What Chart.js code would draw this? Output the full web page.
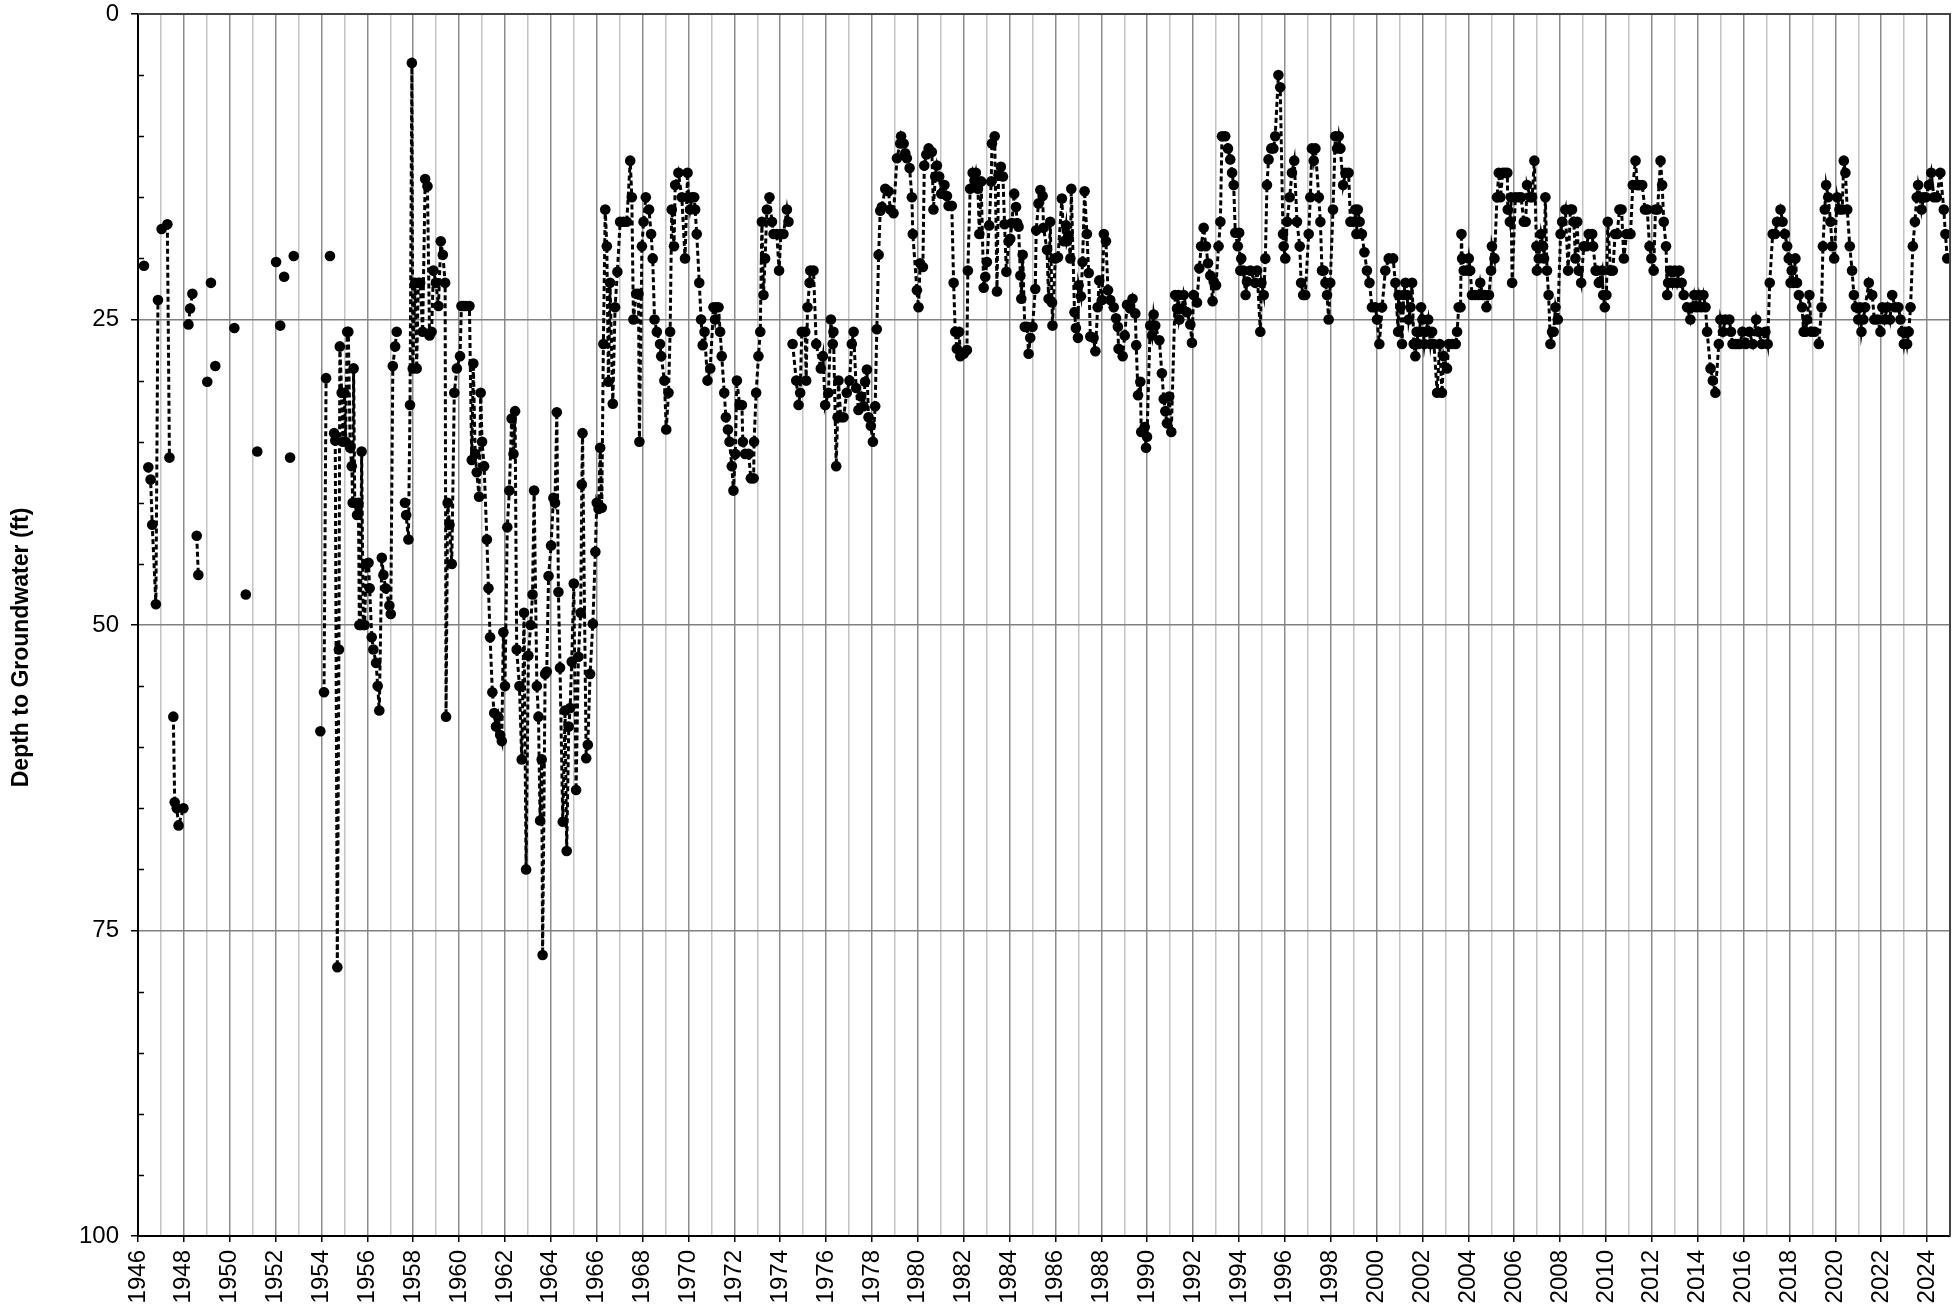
<!DOCTYPE html>
<html>
<head>
<meta charset="utf-8">
<script src="https://cdn.jsdelivr.net/npm/chart.js@4.4.0/dist/chart.umd.min.js"></script>
<style>
  html, body { margin: 0; padding: 0; background: #fff; }
  canvas { display: block; }
</style>
</head>
<body>
<canvas id="chart" width="1959" height="1309"></canvas>
<script>
// [decimal year, depth to groundwater (ft)]; null = no line across the gap
const obs1940s = [
  [1946.26, 20.6], null,
  [1946.45, 37.1], [1946.55, 38.1], [1946.62, 41.8], [1946.78, 48.3], [1946.87, 23.4], null,
  [1947.03, 17.6], [1947.28, 17.2], [1947.37, 36.3], null,
  [1947.54, 57.5], [1947.60, 64.5], [1947.69, 65.0], [1947.77, 66.4], [1947.98, 65.0], null,
  [1948.20, 25.4], [1948.27, 24.1], [1948.37, 22.9], null,
  [1948.56, 42.7], [1948.63, 45.9], null,
  [1949.02, 30.1], null, [1949.18, 22.0], null, [1949.37, 28.8], null
];
const obs1950s = [
  [1950.20, 25.7], null, [1950.70, 47.5], null, [1951.20, 35.8], null,
  [1952.02, 20.3], null, [1952.20, 25.5], null, [1952.37, 21.5], null,
  [1952.63, 36.3], null, [1952.79, 19.8], null, [1953.95, 58.7], null,
  [1954.11, 55.5], [1954.20, 29.8], null, [1954.37, 19.8], null,
  [1954.55, 34.3], [1954.60, 34.9], [1954.69, 78.0], [1954.76, 52.0], [1954.80, 27.2],
  [1954.88, 31.0], [1954.93, 35.0], [1955.00, 31.0], [1955.05, 35.0], [1955.12, 26.0],
  [1955.17, 26.0], [1955.25, 35.5], [1955.32, 37.0], [1955.36, 40.0], [1955.40, 29.0],
  [1955.45, 40.0], [1955.55, 41.0], [1955.61, 40.0], [1955.65, 50.0], [1955.70, 50.0],
  [1955.75, 35.8], [1955.82, 50.0], [1955.88, 50.0], [1955.95, 45.0], [1956.05, 44.9],
  [1956.10, 47.0], [1956.19, 51.0], [1956.26, 52.0], [1956.38, 53.1], [1956.45, 55.0],
  [1956.52, 57.0], [1956.63, 44.5], [1956.70, 45.9], [1956.80, 47.0], [1956.96, 48.4],
  [1957.02, 49.1], [1957.11, 28.8], [1957.21, 27.2], [1957.28, 26.0], null,
  [1957.64, 40.0], [1957.69, 41.0], [1957.79, 43.0], [1957.86, 32.0], [1957.94, 4.0],
  [1957.98, 29.0], [1958.08, 22.0], [1958.15, 29.0], [1958.22, 22.0], [1958.30, 22.0],
  [1958.41, 26.0], [1958.52, 13.5], [1958.62, 14.1], [1958.71, 26.3], [1958.80, 26.0],
  [1958.88, 21.0], [1958.99, 22.0], [1959.10, 23.9], [1959.20, 18.6], [1959.29, 19.7],
  [1959.39, 22.0], [1959.43, 57.5], [1959.50, 40.0], [1959.58, 41.8], [1959.68, 45.0],
  [1959.79, 31.0], [1959.90, 29.0]
];
const obs1960s = [
  [1960.04, 28.0], [1960.10, 23.9], [1960.20, 23.9], [1960.30, 23.9], [1960.45, 23.9],
  [1960.55, 36.5], [1960.62, 28.6], [1960.70, 36.0], [1960.77, 37.5], [1960.87, 39.5],
  [1960.94, 31.0], [1961.00, 35.0], [1961.09, 37.0], [1961.21, 43.0], [1961.28, 47.0],
  [1961.35, 51.0], [1961.45, 55.5], [1961.53, 57.2], [1961.61, 58.3], [1961.70, 57.5],
  [1961.79, 59.0], [1961.86, 59.5], [1961.93, 50.6], [1962.00, 55.0], [1962.10, 42.0],
  [1962.19, 39.0], [1962.29, 33.1], [1962.37, 36.0], [1962.44, 32.5], [1962.51, 52.0],
  [1962.63, 55.0], [1962.73, 61.0], [1962.83, 49.0], [1962.92, 70.0], [1963.02, 52.5],
  [1963.12, 50.0], [1963.20, 47.5], [1963.27, 39.0], [1963.39, 55.0], [1963.46, 57.5],
  [1963.53, 66.0], [1963.60, 61.0], [1963.64, 77.0], [1963.75, 54.0], [1963.82, 53.8],
  [1963.90, 46.0], [1964.01, 43.5], [1964.11, 39.6], [1964.18, 40.0], [1964.26, 32.6],
  [1964.33, 47.3], [1964.40, 53.5], [1964.52, 66.1], [1964.62, 57.0], [1964.69, 68.5],
  [1964.78, 58.3], [1964.84, 56.8], [1964.91, 53.0], [1965.00, 46.6], [1965.10, 63.5],
  [1965.20, 52.6], [1965.30, 49.0], [1965.35, 38.5], [1965.38, 34.3], [1965.54, 60.9],
  [1965.61, 59.8], [1965.71, 54.0], [1965.83, 49.9], [1965.94, 44.0], [1966.00, 40.0],
  [1966.08, 40.5], [1966.15, 35.5], [1966.22, 40.4], [1966.29, 27.0], [1966.37, 16.0],
  [1966.44, 19.0], [1966.51, 30.1], [1966.58, 22.0], [1966.70, 31.9], [1966.80, 24.0],
  [1966.90, 21.1], [1967.02, 17.0], [1967.17, 17.0], [1967.31, 17.0], [1967.46, 12.0],
  [1967.53, 15.0], [1967.60, 25.0], [1967.72, 22.9], [1967.82, 22.9], [1967.86, 35.0],
  [1967.97, 19.0], [1968.04, 17.0], [1968.14, 15.0], [1968.28, 16.0], [1968.37, 18.0],
  [1968.44, 20.0], [1968.52, 25.0], [1968.62, 26.0], [1968.76, 27.0], [1968.81, 28.0],
  [1968.95, 30.0], [1969.03, 34.0], [1969.13, 31.0], [1969.20, 26.0], [1969.27, 16.0],
  [1969.37, 19.0], [1969.42, 14.0], [1969.56, 13.0], [1969.71, 15.0], [1969.85, 20.0],
  [1969.96, 13.0]
];
const obs1970s = [
  [1970.00, 15.0], [1970.07, 16.0], [1970.16, 15.0], [1970.25, 15.0], [1970.29, 16.0],
  [1970.36, 18.0], [1970.47, 22.0], [1970.55, 25.0], [1970.62, 27.1], [1970.70, 26.0],
  [1970.83, 30.0], [1970.95, 29.0], [1971.09, 24.0], [1971.16, 25.0], [1971.22, 24.0],
  [1971.31, 24.0], [1971.38, 26.0], [1971.45, 28.0], [1971.56, 31.0], [1971.63, 33.0],
  [1971.72, 34.0], [1971.79, 35.0], [1971.89, 37.0], [1971.96, 39.0], [1972.04, 36.0],
  [1972.11, 30.0], [1972.23, 32.0], [1972.33, 32.0], [1972.37, 35.0], [1972.47, 36.0],
  [1972.62, 36.0], [1972.72, 38.0], [1972.84, 38.0], [1972.86, 35.0], [1972.95, 31.0],
  [1973.05, 28.0], [1973.13, 26.0], [1973.20, 17.0], [1973.27, 23.0], [1973.34, 20.0],
  [1973.42, 16.0], [1973.53, 15.0], [1973.64, 17.0], [1973.71, 18.0], [1973.85, 18.0],
  [1973.95, 21.0], [1974.03, 18.0], [1974.14, 18.0], [1974.29, 16.0], [1974.36, 17.0], null,
  [1974.54, 27.0], [1974.70, 30.0], [1974.80, 32.0], [1974.87, 31.0], [1974.94, 26.0],
  [1975.09, 26.0], [1975.13, 30.0], [1975.19, 24.0], [1975.28, 22.0], [1975.31, 21.0],
  [1975.45, 21.0], [1975.57, 27.0], [1975.77, 29.0], [1975.86, 28.0], [1975.96, 32.0],
  [1976.10, 31.0], [1976.21, 25.0], [1976.29, 27.0], [1976.32, 26.0], [1976.44, 37.0],
  [1976.50, 33.0], [1976.54, 30.0], [1976.64, 33.0], [1976.76, 33.0], [1976.90, 31.0],
  [1977.02, 30.0], [1977.12, 27.0], [1977.20, 26.0], [1977.31, 30.6], [1977.41, 32.4],
  [1977.53, 31.3], [1977.63, 32.1], [1977.70, 30.1], [1977.78, 29.1], [1977.85, 33.0],
  [1977.95, 33.7], [1978.04, 35.0], [1978.14, 32.1], [1978.21, 25.8], [1978.29, 19.7],
  [1978.36, 16.1], [1978.43, 15.8], [1978.58, 14.3], [1978.72, 14.5], [1978.80, 16.0],
  [1978.94, 16.3], [1979.09, 11.8], [1979.23, 10.6], [1979.27, 10.0], [1979.38, 10.6],
  [1979.45, 11.4], [1979.52, 11.8], [1979.64, 12.6], [1979.74, 15.0], [1979.78, 18.0],
  [1979.96, 22.6]
];
const obs1980s = [
  [1980.03, 24.0], [1980.10, 20.4], [1980.22, 20.7], [1980.28, 12.4], [1980.37, 11.5],
  [1980.47, 11.0], [1980.61, 11.3], [1980.68, 16.0], [1980.76, 13.3], [1980.83, 12.4],
  [1980.93, 13.3], [1981.02, 14.7], [1981.16, 14.0], [1981.27, 14.9], [1981.34, 15.7],
  [1981.48, 15.7], [1981.56, 22.0], [1981.63, 26.0], [1981.70, 27.4], [1981.80, 26.0],
  [1981.85, 28.0], [1982.00, 27.8], [1982.14, 27.5], [1982.18, 21.0], [1982.28, 14.3],
  [1982.39, 13.0], [1982.47, 13.6], [1982.53, 13.0], [1982.62, 14.3], [1982.68, 18.0],
  [1982.76, 13.7], [1982.87, 22.4], [1982.94, 21.5], [1983.01, 20.3], [1983.11, 17.3],
  [1983.20, 13.7], [1983.23, 10.6], [1983.35, 10.0], [1983.45, 22.7], [1983.52, 13.2],
  [1983.62, 12.5], [1983.71, 13.3], [1983.78, 17.2], [1983.86, 21.1], [1983.96, 18.6],
  [1984.03, 18.4], [1984.10, 17.1], [1984.20, 14.7], [1984.28, 15.8], [1984.33, 17.1],
  [1984.39, 17.4], [1984.47, 21.4], [1984.51, 23.3], [1984.57, 19.7], [1984.66, 25.6],
  [1984.76, 25.6], [1984.83, 27.8], [1984.90, 26.5], [1985.00, 25.6], [1985.12, 22.5],
  [1985.16, 17.7], [1985.26, 15.5], [1985.34, 14.4], [1985.44, 14.9], [1985.48, 17.5],
  [1985.63, 19.3], [1985.70, 23.3], [1985.77, 17.0], [1985.85, 23.6], [1985.87, 25.5],
  [1985.99, 20.0], [1986.11, 19.9], [1986.28, 15.1], [1986.36, 18.6], [1986.46, 17.3],
  [1986.50, 18.6], [1986.57, 18.1], [1986.65, 20.0], [1986.69, 14.3], [1986.83, 24.4],
  [1986.89, 25.7], [1986.98, 26.5], [1987.01, 22.2], [1987.11, 23.1], [1987.18, 20.3],
  [1987.27, 14.5], [1987.37, 18.0], [1987.45, 21.2], [1987.52, 26.4], [1987.66, 26.5],
  [1987.74, 27.6], [1987.84, 24.0], [1987.91, 21.8], [1988.03, 23.4], [1988.11, 18.0],
  [1988.20, 18.6], [1988.29, 22.6], [1988.39, 23.4], [1988.54, 24.0], [1988.64, 24.9],
  [1988.72, 25.6], [1988.75, 27.4], [1988.93, 28.0], [1989.02, 26.3], [1989.12, 23.8],
  [1989.26, 24.1], [1989.36, 23.3], [1989.48, 24.5], [1989.52, 27.1], [1989.60, 31.2],
  [1989.70, 30.1], [1989.74, 34.2], [1989.89, 33.8], [1989.95, 35.5], [1989.99, 34.6]
];
const obs1990s = [
  [1990.13, 25.5], [1990.21, 26.3], [1990.28, 24.6], [1990.35, 25.5], [1990.53, 26.7],
  [1990.64, 29.4], [1990.72, 31.5], [1990.79, 32.5], [1990.86, 33.5], [1990.96, 31.3],
  [1991.05, 34.2], [1991.22, 23.0], [1991.30, 24.1], [1991.37, 23.0], [1991.40, 25.0],
  [1991.52, 24.1], [1991.59, 23.0], [1991.73, 24.4], [1991.88, 25.4], [1991.95, 26.9],
  [1992.02, 23.0], [1992.17, 23.6], [1992.27, 20.8], [1992.35, 19.0], [1992.46, 17.5],
  [1992.56, 19.0], [1992.65, 20.4], [1992.75, 21.4], [1992.85, 23.5], [1992.90, 21.9],
  [1993.00, 22.2], [1993.11, 19.0], [1993.19, 17.0], [1993.26, 10.0], [1993.40, 10.0],
  [1993.52, 11.0], [1993.62, 11.9], [1993.70, 13.0], [1993.77, 14.0], [1993.84, 17.9],
  [1993.95, 19.0], [1994.01, 17.9], [1994.06, 21.0], [1994.10, 20.0], [1994.20, 21.0],
  [1994.29, 23.0], [1994.35, 21.9], [1994.50, 21.0], [1994.71, 22.0], [1994.79, 21.0],
  [1994.93, 26.0], [1994.98, 22.0], [1995.08, 23.0], [1995.15, 20.0], [1995.22, 14.0],
  [1995.29, 11.9], [1995.41, 11.0], [1995.50, 11.0], [1995.58, 10.0], [1995.72, 5.0],
  [1995.80, 6.0], [1995.92, 18.0], [1995.95, 19.0], [1996.02, 20.0], [1996.10, 17.0],
  [1996.21, 15.0], [1996.31, 13.0], [1996.41, 12.0], [1996.53, 17.0], [1996.65, 19.0],
  [1996.71, 22.0], [1996.80, 23.0], [1996.89, 23.0], [1997.04, 18.0], [1997.11, 15.0],
  [1997.18, 11.0], [1997.26, 12.0], [1997.33, 11.0], [1997.48, 15.0], [1997.55, 17.0],
  [1997.62, 21.0], [1997.69, 21.0], [1997.77, 22.0], [1997.84, 23.0], [1997.91, 25.0],
  [1997.98, 22.0], [1998.10, 16.0], [1998.20, 10.0], [1998.28, 11.0], [1998.35, 10.0],
  [1998.42, 11.0], [1998.54, 14.0], [1998.64, 13.0], [1998.78, 13.0], [1998.86, 17.0],
  [1999.00, 17.0], [1999.07, 16.0], [1999.12, 18.0], [1999.18, 16.0], [1999.26, 17.0],
  [1999.36, 18.0], [1999.47, 19.5], [1999.58, 21.0], [1999.69, 22.0], [1999.80, 24.0],
  [1999.95, 24.0]
];
const obs2000s = [
  [2000.02, 25.0], [2000.12, 27.0], [2000.24, 24.0], [2000.38, 21.0], [2000.53, 20.0],
  [2000.72, 20.0], [2000.82, 22.0], [2000.94, 26.0], [2000.96, 23.0], [2001.04, 24.0],
  [2001.11, 27.0], [2001.18, 23.0], [2001.26, 22.0], [2001.33, 23.0], [2001.40, 25.0],
  [2001.48, 24.0], [2001.55, 22.0], [2001.62, 27.0], [2001.69, 28.0], [2001.75, 26.0],
  [2001.82, 27.0], [2001.88, 26.0], [2001.94, 24.0], [2002.00, 25.0], [2002.08, 27.0],
  [2002.15, 26.0], [2002.25, 25.0], [2002.35, 27.0], [2002.42, 26.0], [2002.50, 27.0],
  [2002.64, 31.0], [2002.75, 27.0], [2002.85, 31.0], [2002.93, 28.0], [2003.07, 29.0],
  [2003.15, 27.0], [2003.30, 27.0], [2003.45, 27.0], [2003.51, 26.0], [2003.58, 24.0],
  [2003.66, 24.0], [2003.70, 18.0], [2003.73, 20.0], [2003.80, 21.0], [2003.95, 21.0],
  [2004.02, 20.0], [2004.08, 21.0], [2004.16, 23.0], [2004.30, 23.0], [2004.45, 23.0],
  [2004.52, 22.0], [2004.62, 23.0], [2004.72, 23.0], [2004.79, 24.0], [2004.90, 23.0],
  [2004.99, 21.0], [2005.03, 19.0], [2005.14, 20.0], [2005.25, 15.0], [2005.33, 13.0],
  [2005.40, 15.0], [2005.50, 13.0], [2005.60, 13.0], [2005.70, 13.0], [2005.72, 16.0],
  [2005.81, 17.0], [2005.86, 15.0], [2005.91, 22.0], [2006.05, 15.0], [2006.20, 15.0],
  [2006.30, 15.0], [2006.42, 17.0], [2006.50, 17.0], [2006.56, 14.0], [2006.70, 15.0],
  [2006.78, 15.0], [2006.88, 12.0], [2006.97, 19.0], [2006.99, 21.0], [2007.07, 20.0],
  [2007.17, 18.0], [2007.26, 19.0], [2007.30, 20.0], [2007.36, 15.0], [2007.43, 21.0],
  [2007.50, 23.0], [2007.58, 27.0], [2007.65, 26.0], [2007.72, 26.0], [2007.80, 24.0],
  [2007.90, 25.0], [2008.02, 18.0], [2008.09, 17.0], [2008.23, 16.0], [2008.35, 21.0],
  [2008.45, 16.0], [2008.52, 16.0], [2008.60, 17.0], [2008.67, 20.0], [2008.75, 17.0],
  [2008.81, 21.0], [2008.92, 22.0], [2009.03, 19.0], [2009.15, 19.0], [2009.25, 18.0],
  [2009.40, 18.0], [2009.44, 19.0], [2009.55, 21.0], [2009.61, 21.0], [2009.69, 22.0],
  [2009.83, 21.0], [2009.88, 23.0], [2009.95, 24.0]
];
const obs2010s = [
  [2010.02, 23.0], [2010.08, 17.0], [2010.20, 21.0], [2010.30, 21.0], [2010.40, 18.0],
  [2010.49, 18.0], [2010.59, 16.0], [2010.68, 16.0], [2010.78, 20.0], [2010.90, 18.0],
  [2011.07, 18.0], [2011.17, 14.0], [2011.29, 12.0], [2011.36, 14.0], [2011.45, 14.0],
  [2011.58, 14.0], [2011.70, 16.0], [2011.80, 16.0], [2011.90, 19.0], [2011.98, 20.0],
  [2012.08, 21.0], [2012.16, 16.0], [2012.25, 16.0], [2012.38, 12.0], [2012.45, 14.0],
  [2012.52, 17.0], [2012.62, 19.0], [2012.67, 23.0], [2012.71, 22.0], [2012.80, 21.0],
  [2012.90, 22.0], [2013.00, 21.0], [2013.10, 22.0], [2013.20, 21.0], [2013.30, 22.0],
  [2013.39, 23.0], [2013.54, 24.0], [2013.68, 25.0], [2013.76, 24.0], [2013.85, 23.0],
  [2013.95, 24.0], [2014.05, 23.0], [2014.15, 24.0], [2014.25, 23.0], [2014.34, 24.0],
  [2014.41, 26.0], [2014.56, 29.0], [2014.66, 30.0], [2014.77, 31.0], [2014.92, 27.0],
  [2014.99, 25.0], [2015.10, 26.0], [2015.20, 25.0], [2015.38, 25.0], [2015.45, 26.0],
  [2015.52, 27.0], [2015.65, 27.0], [2015.75, 27.0], [2015.85, 27.0], [2015.95, 26.0],
  [2016.10, 27.0], [2016.25, 26.0], [2016.40, 27.0], [2016.55, 25.0], [2016.65, 26.0],
  [2016.80, 27.0], [2016.95, 26.0], [2017.05, 27.0], [2017.14, 22.0], [2017.27, 18.0],
  [2017.37, 18.0], [2017.46, 17.0], [2017.61, 16.0], [2017.70, 17.0], [2017.80, 18.0],
  [2017.90, 19.0], [2017.97, 20.0], [2018.05, 22.0], [2018.10, 21.0], [2018.18, 22.0],
  [2018.26, 20.0], [2018.33, 22.0], [2018.41, 23.0], [2018.55, 24.0], [2018.62, 26.0],
  [2018.70, 26.0], [2018.77, 25.0], [2018.87, 23.0], [2018.95, 26.0], [2019.10, 26.0],
  [2019.28, 27.0], [2019.40, 24.0], [2019.46, 19.0], [2019.54, 16.0], [2019.60, 14.0],
  [2019.69, 15.0], [2019.79, 17.0], [2019.86, 19.0], [2019.95, 20.0]
];
const obs2020s = [
  [2020.08, 15.0], [2020.18, 16.0], [2020.30, 16.0], [2020.37, 12.0], [2020.44, 13.0],
  [2020.52, 16.0], [2020.63, 19.0], [2020.73, 21.0], [2020.81, 23.0], [2020.90, 24.0],
  [2021.00, 25.0], [2021.08, 24.0], [2021.14, 26.0], [2021.22, 25.0], [2021.30, 24.0],
  [2021.46, 22.0], [2021.61, 23.0], [2021.70, 25.0], [2021.85, 25.0], [2021.97, 26.0],
  [2022.05, 24.0], [2022.15, 25.0], [2022.27, 24.0], [2022.38, 25.0], [2022.48, 23.0],
  [2022.60, 24.0], [2022.75, 24.0], [2022.84, 25.0], [2022.92, 26.0], [2022.99, 27.0],
  [2023.06, 26.0], [2023.13, 27.0], [2023.20, 26.0], [2023.28, 24.0], [2023.38, 19.0],
  [2023.47, 17.0], [2023.55, 15.0], [2023.61, 14.0], [2023.70, 15.0], [2023.76, 16.0],
  [2023.85, 15.0], [2023.95, 15.0], [2024.08, 14.0], [2024.18, 13.0], [2024.30, 15.0],
  [2024.42, 15.0], [2024.58, 13.0], [2024.73, 16.0], [2024.80, 18.0], [2024.88, 20.0]
];

const yearMin = 1946;
const yearMax = 2025;
const depthMin = 0;
const depthMax = 100;
// trailing spaces nudge the centred title a little toward the bottom, as in the source
const yTitle = 'Depth to Groundwater (ft)       ';

// build the point list; a null entry becomes a gap in the line
const allObs = [].concat(obs1940s, obs1950s, obs1960s, obs1970s, obs1980s,
                         obs1990s, obs2000s, obs2010s, obs2020s);
const points = [];
let lastX = yearMin;
allObs.forEach(o => {
  if (o === null) {
    points.push({ x: lastX, y: null });
  } else {
    lastX = o[0];
    points.push({ x: o[0], y: o[1] });
  }
});

// frame + small inside minor ticks on the depth axis
const framePlugin = {
  id: 'frame',
  afterDraw(chart) {
    const { ctx, chartArea: a, scales } = chart;
    const ys = scales.y;
    ctx.save();
    ctx.strokeStyle = '#000';
    ctx.lineWidth = 1.5;
    ctx.beginPath();
    for (let v = depthMin + 5; v < depthMax; v += 5) {
      if (v % 25 === 0) continue;
      const py = Math.round(ys.getPixelForValue(v)) + 0.5;
      ctx.moveTo(a.left, py);
      ctx.lineTo(a.left + 6, py);
    }
    ctx.stroke();
    ctx.strokeStyle = '#444';
    ctx.lineWidth = 2;
    ctx.beginPath();
    ctx.moveTo(a.left, a.top);
    ctx.lineTo(a.right, a.top);
    ctx.lineTo(a.right, a.bottom);
    ctx.stroke();
    ctx.restore();
  }
};

const chart = new Chart(document.getElementById('chart').getContext('2d'), {
  type: 'line',
  data: {
    datasets: [{
      data: points,
      borderColor: '#000',
      borderWidth: 3,
      borderDash: [5, 3],
      backgroundColor: '#000',
      pointBackgroundColor: '#000',
      pointBorderWidth: 0,
      pointRadius: 5.3,
      spanGaps: false,
      tension: 0
    }]
  },
  options: {
    responsive: false,
    animation: false,
    devicePixelRatio: 1,
    layout: { padding: { top: 14, right: 9, left: 0, bottom: 0 } },
    plugins: { legend: { display: false }, tooltip: { enabled: false } },
    scales: {
      x: {
        type: 'linear',
        min: yearMin,
        max: yearMax,
        afterFit(scale) {
          scale.height = 73;
          scale.paddingLeft = 0;
          scale.paddingRight = 0;
        },
        border: { color: '#000', width: 2 },
        grid: {
          color: c => (c.tick && c.tick.value % 2 === 0) ? '#8c8c8c' : '#c4c4c4',
          tickColor: c => (c.tick && c.tick.value % 2 === 0) ? '#000' : 'rgba(0,0,0,0)',
          lineWidth: 1.5,
          tickLength: 6
        },
        ticks: {
          stepSize: 1,
          autoSkip: false,
          minRotation: 90,
          maxRotation: 90,
          padding: 8,
          color: '#000',
          font: { family: 'Liberation Sans, Arial, sans-serif', size: 24 },
          callback: v => (v % 2 === 0 && v < yearMax) ? String(v) : ''
        }
      },
      y: {
        type: 'linear',
        reverse: true,
        min: depthMin,
        max: depthMax,
        afterFit(scale) {
          scale.width = 138;
          scale.paddingTop = 0;
          scale.paddingBottom = 0;
        },
        border: { color: '#000', width: 2 },
        grid: {
          color: c => (c.tick && c.tick.value % 25 === 0 && c.tick.value > 0 && c.tick.value < 100) ? '#808080' : 'rgba(0,0,0,0)',
          tickColor: c => (c.tick && c.tick.value % 25 === 0) ? '#000' : 'rgba(0,0,0,0)',
          lineWidth: 1.5,
          tickLength: 7
        },
        ticks: {
          stepSize: 5,
          autoSkip: false,
          padding: 12,
          color: '#000',
          font: { family: 'Liberation Sans, Arial, sans-serif', size: 24 },
          callback: v => (v % 25 === 0) ? String(v) : ''
        },
        title: {
          display: true,
          text: yTitle,
          color: '#000',
          padding: { top: 8, bottom: 0 },
          font: { family: 'Liberation Sans, Arial, sans-serif', size: 23, weight: 'bold' }
        }
      }
    }
  },
  plugins: [framePlugin]
});

// nudge the layout padding so the plot box lands where the reference has it
const targetTop = 14;
const targetRight = 1950;
for (let i = 0; i < 3; i++) {
  const a = chart.chartArea;
  const pad = Object.assign({}, chart.config.options.layout.padding);
  const dTop = targetTop - a.top;
  const dRight = a.right - targetRight;
  if (Math.abs(dTop) < 0.5 && Math.abs(dRight) < 0.5) break;
  pad.top += dTop;
  pad.right += dRight;
  chart.config.options.layout.padding = pad;
  chart.update();
}
</script>
</body>
</html>
